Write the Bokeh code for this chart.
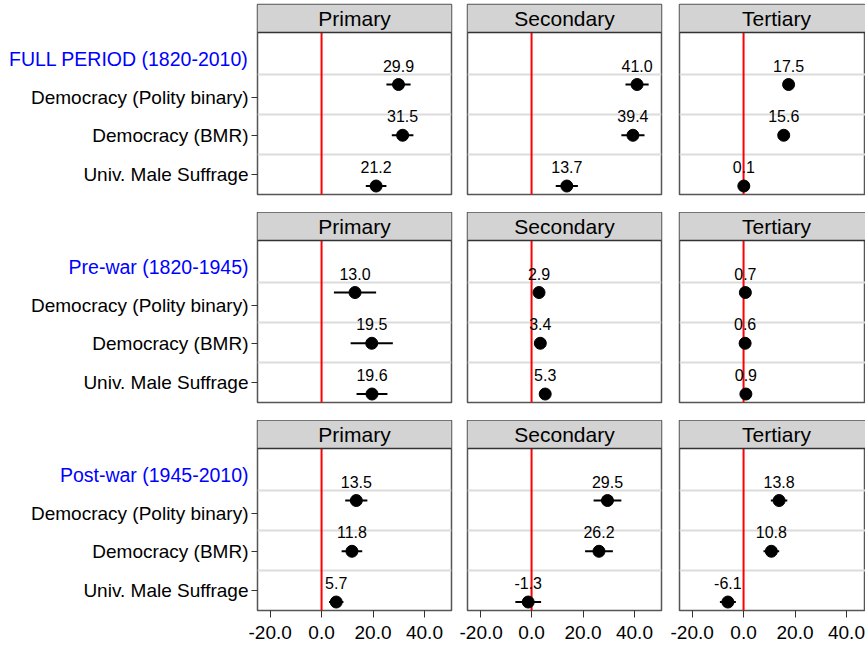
from bokeh.plotting import figure
from bokeh.layouts import column, row
from bokeh.models import Range1d, FixedTicker, Grid, Span, PrintfTickFormatter
from bokeh.core.properties import value
from bokeh.embed import file_html
from bokeh.resources import INLINE

FONT = "Liberation Sans"

# ---------------- data ----------------
periods = ["FULL PERIOD (1820-2010)", "Pre-war (1820-1945)", "Post-war (1945-2010)"]
levels = ["Primary", "Secondary", "Tertiary"]
measures = ["Democracy (Polity binary)", "Democracy (BMR)", "Univ. Male Suffrage"]

full_primary_est = [29.9, 31.5, 21.2]
full_primary_ci = [4.7, 4.2, 4.0]
full_secondary_est = [41.0, 39.4, 13.7]
full_secondary_ci = [4.5, 4.5, 4.3]
full_tertiary_est = [17.5, 15.6, 0.1]
full_tertiary_ci = [1.5, 1.4, 1.3]

pre_primary_est = [13.0, 19.5, 19.6]
pre_primary_ci = [8.2, 8.2, 6.0]
pre_secondary_est = [2.9, 3.4, 5.3]
pre_secondary_ci = [1.2, 1.2, 1.3]
pre_tertiary_est = [0.7, 0.6, 0.9]
pre_tertiary_ci = [0.5, 0.5, 0.5]

post_primary_est = [13.5, 11.8, 5.7]
post_primary_ci = [4.3, 4.0, 2.8]
post_secondary_est = [29.5, 26.2, -1.3]
post_secondary_ci = [5.4, 5.4, 5.0]
post_tertiary_est = [13.8, 10.8, -6.1]
post_tertiary_ci = [3.2, 3.05, 3.1]

x_ticks = [-20, 0, 20, 40]

table = [
    [(full_primary_est, full_primary_ci), (full_secondary_est, full_secondary_ci), (full_tertiary_est, full_tertiary_ci)],
    [(pre_primary_est, pre_primary_ci), (pre_secondary_est, pre_secondary_ci), (pre_tertiary_est, pre_tertiary_ci)],
    [(post_primary_est, post_primary_ci), (post_secondary_est, post_secondary_ci), (post_tertiary_est, post_tertiary_ci)],
]

# ---------------- layout constants ----------------
X0, X1 = -24.9, 50.5
point_pos = [1, 2, 3]
tick_pos = [1.256, 2.012, 2.768]
title_pos = 0.5
grid_pos = [0.803, 1.591, 2.379]
PANEL_TOP = -0.025
PANEL_BOTTOM = 3.167
STRIP_TOP = -0.577

FRAME_W = 194
LAST_FRAME_W = 186          # last column is cut by the window edge, as in the original
FRAME_H = 190
LABEL_W = 248

ROW_TOP = [4, 0, 0]
ROW_BOTTOM = [18, 18, 38]
COL_LEFT = [9, 8, 9]
COL_RIGHT = [8, 9, 0]


def style_text(p):
    p.background_fill_color = "white"
    p.border_fill_color = "white"


def make_label_fig(pi):
    p = figure(
        frame_width=LABEL_W, frame_height=FRAME_H,
        x_range=Range1d(0, 1), y_range=Range1d(PANEL_BOTTOM, STRIP_TOP),
        output_backend="svg", toolbar_location=None,
        x_axis_location=None, y_axis_location=None,
        min_border_left=0, min_border_right=0,
        min_border_top=ROW_TOP[pi], min_border_bottom=ROW_BOTTOM[pi],
    )
    style_text(p)
    p.outline_line_color = None
    p.grid.visible = False
    p.text(x=[1] * len(measures), y=tick_pos, text=measures,
           text_align="right", text_baseline="middle",
           text_font=value(FONT), text_font_size="19px", text_color="black")
    p.text(x=[1], y=[title_pos], text=[periods[pi]],
           text_align="right", text_baseline="middle",
           text_font=value(FONT), text_font_size="19.5px", text_color="blue")
    return p


def make_panel(pi, li):
    est, ci = table[pi][li]
    lo = [e - c for e, c in zip(est, ci)]
    hi = [e + c for e, c in zip(est, ci)]
    labels = [f"{e:.1f}" for e in est]

    fw = FRAME_W if li < 2 else LAST_FRAME_W
    x_end = X0 + (X1 - X0) * fw / FRAME_W

    p = figure(
        frame_width=fw, frame_height=FRAME_H,
        x_range=Range1d(X0, x_end), y_range=Range1d(PANEL_BOTTOM, STRIP_TOP),
        output_backend="svg", toolbar_location=None,
        x_axis_location="below" if pi == 2 else None,
        y_axis_location="left" if li == 0 else None,
        min_border_left=COL_LEFT[li],
        min_border_right=COL_RIGHT[li],
        min_border_top=ROW_TOP[pi],
        min_border_bottom=ROW_BOTTOM[pi],
    )
    style_text(p)
    p.outline_line_color = "#555555"
    p.outline_line_width = 1.5
    for g in p.grid:
        g.visible = False
    p.add_layout(Grid(dimension=1, ticker=FixedTicker(ticks=grid_pos),
                      grid_line_color="#dcdcdc", grid_line_width=2))

    # strip
    p.quad(left=[X0], right=[x_end], top=[STRIP_TOP], bottom=[PANEL_TOP],
           fill_color="#d3d3d3", line_color=None)
    p.add_layout(Span(location=PANEL_TOP, dimension="width",
                      line_color="#333333", line_width=1.5))
    p.text(x=[(X0 + X1) / 2], y=[(STRIP_TOP + PANEL_TOP) / 2], text=[levels[li]],
           text_align="center", text_baseline="middle",
           text_font=value(FONT), text_font_size="21px", text_color="black")

    # zero line
    p.segment(x0=[0], x1=[0], y0=[PANEL_TOP], y1=[PANEL_BOTTOM],
              line_color="red", line_width=2)

    # error bars and points
    p.segment(x0=lo, x1=hi, y0=point_pos, y1=point_pos, line_color="black", line_width=2)
    p.scatter(x=est, y=point_pos, size=12, fill_color="black", line_color="black")
    p.text(x=est, y=point_pos, text=labels, y_offset=-19,
           text_align="center", text_baseline="middle",
           text_font=value(FONT), text_font_size="16px", text_color="black")

    if li == 0:
        ax = p.yaxis[0]
        ax.ticker = FixedTicker(ticks=tick_pos)
        ax.major_label_overrides = {t: "" for t in tick_pos}
        ax.axis_line_color = None
        ax.major_tick_out = 6
        ax.major_tick_in = 0
        ax.minor_tick_out = 0
        ax.minor_tick_in = 0
        ax.major_tick_line_color = "#333333"
        ax.major_label_standoff = 0

    if pi == 2:
        ax = p.xaxis[0]
        ax.ticker = FixedTicker(ticks=x_ticks)
        ax.formatter = PrintfTickFormatter(format="%.1f")
        ax.axis_line_color = None
        ax.major_tick_out = 7
        ax.major_tick_in = 0
        ax.minor_tick_out = 0
        ax.minor_tick_in = 0
        ax.major_tick_line_color = "#333333"
        ax.major_label_text_font = FONT
        ax.major_label_text_font_size = "19px"
        ax.major_label_text_color = "black"
        ax.major_label_standoff = 8
    return p


rows = []
for pi in range(3):
    rows.append(row(make_label_fig(pi), *[make_panel(pi, li) for li in range(3)], spacing=0))
layout = column(*rows, spacing=0)

open("out.html", "w").write(file_html(layout, INLINE))
